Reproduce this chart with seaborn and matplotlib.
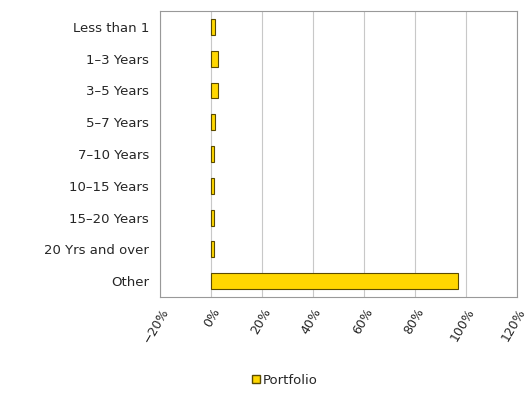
import matplotlib
matplotlib.use("Agg")
import matplotlib.pyplot as plt
import seaborn as sns
import pandas as pd
from matplotlib.ticker import PercentFormatter
from matplotlib.patches import Patch

# maturity buckets and portfolio share (%)
categories = ["Less than 1", "1\u20133 Years", "3\u20135 Years", "5\u20137 Years", "7\u201310 Years",
              "10\u201315 Years", "15\u201320 Years", "20 Yrs and over", "Other"]
portfolio = [1.5, 2.5, 2.5, 1.5, 1.0, 1.0, 1.0, 1.0, 97.0]
x_ticks = [-20, 0, 20, 40, 60, 80, 100, 120]

df = pd.DataFrame({"bucket": categories, "share": portfolio})

sns.set_style("white")
plt.rcParams['font.family'] = ['DejaVu Sans']

fig = plt.figure(figsize=(5.27, 3.94), dpi=100)
ax = fig.add_axes([0.304, 0.246, 0.677, 0.726])

sns.barplot(data=df, x="share", y="bucket", orient="h", color="#FFD700",
            edgecolor="#5a4a00", linewidth=0.8, width=0.5, saturation=1, ax=ax)

ax.set_xlim(-20, 120)
ax.set_ylim(8.5, -0.5)
ax.set_xticks(x_ticks)
ax.xaxis.set_major_formatter(PercentFormatter(decimals=0))
ax.grid(axis="x", color="#c8c8c8", linewidth=0.8)
ax.set_axisbelow(True)
for s in ax.spines.values():
    s.set_color("#999999")
    s.set_linewidth(0.8)
ax.set_xlabel("")
ax.set_ylabel("")
ax.tick_params(axis="x", labelsize=9, rotation=60, length=3, color="#999999")
ax.tick_params(axis="y", labelsize=9.5, length=3, color="#999999", pad=5)
for lab in ax.get_xticklabels():
    lab.set_ha("right")
    lab.set_rotation_mode("anchor")

handles = [Patch(facecolor="#FFD700", edgecolor="#5a4a00", label="Portfolio")]
fig.legend(handles=handles, loc="center", bbox_to_anchor=(0.54, 0.035), frameon=False,
           fontsize=9.5, handlelength=0.6, handleheight=0.6, handletextpad=0.2)

fig.savefig("out.png", dpi=100)
